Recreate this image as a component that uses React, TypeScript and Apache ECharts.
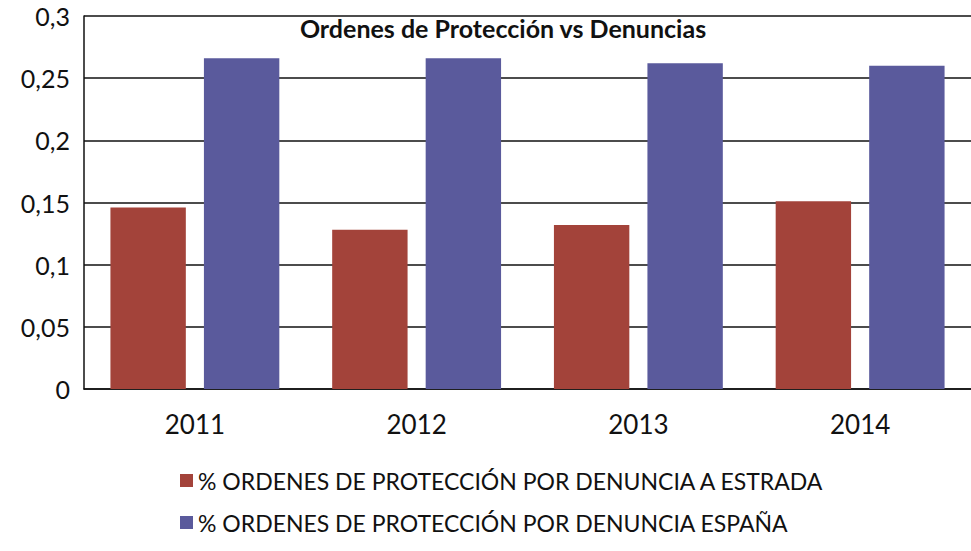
import React, { useEffect, useRef } from "react";
import * as echarts from "echarts";

const categories = ["2011", "2012", "2013", "2014"];
const estradaValues = [0.146, 0.128, 0.132, 0.151];
const espanaValues = [0.266, 0.266, 0.262, 0.26];
const seriesNames = [
  "% ORDENES DE PROTECCIÓN POR DENUNCIA A ESTRADA",
  "% ORDENES DE PROTECCIÓN POR DENUNCIA ESPAÑA",
];
const titleText = "Ordenes de Protección vs Denuncias";

export default function App() {
  const ref = useRef<HTMLDivElement>(null);
  useEffect(() => {
    if (!ref.current) return;
    const chart = echarts.init(ref.current, undefined, { renderer: "svg" });
    const font = "Lato, 'Open Sans', sans-serif";
    chart.setOption({
      animation: false,
      backgroundColor: "#ffffff",
      title: {
        text: titleText,
        left: 498,
        top: 10,
        textAlign: "center",
        textStyle: { fontFamily: font, fontSize: 25, fontWeight: "bold", color: "#111" },
      },
      legend: {
        orient: "vertical",
        left: 175,
        top: 464,
        itemWidth: 13,
        itemHeight: 13,
        itemGap: 19,
        icon: "rect",
        textStyle: { fontFamily: font, fontSize: 23, color: "#111" },
        data: seriesNames,
      },
      grid: { left: 84, right: 0, top: 16, bottom: 162 },
      xAxis: {
        type: "category",
        data: categories,
        axisLine: { show: true, lineStyle: { color: "#111", width: 1.5 } },
        axisTick: { show: false },
        axisLabel: { fontFamily: font, fontSize: 26, color: "#111", margin: 22 },
      },
      yAxis: {
        type: "value",
        min: 0,
        max: 0.3,
        interval: 0.05,
        axisLine: { show: true, lineStyle: { color: "#111", width: 1.5 } },
        axisTick: { show: false },
        splitLine: { show: true, lineStyle: { color: "#111", width: 1.5 } },
        axisLabel: {
          fontFamily: font,
          fontSize: 25,
          color: "#111",
          margin: 14,
          formatter: (v: number) => String(Math.round(v * 100) / 100).replace(".", ","),
        },
      },
      series: [
        {
          name: seriesNames[0],
          type: "bar",
          data: estradaValues,
          barWidth: "34%",
          barGap: "24%",
          itemStyle: { color: "#A3433A" },
        },
        {
          name: seriesNames[1],
          type: "bar",
          data: espanaValues,
          barWidth: "34%",
          itemStyle: { color: "#5A5A9C" },
        },
      ],
    });
    return () => chart.dispose();
  }, []);
  return <div ref={ref} style={{ width: 971, height: 551, position: "absolute", left: 0, top: 0 }} />;
}
